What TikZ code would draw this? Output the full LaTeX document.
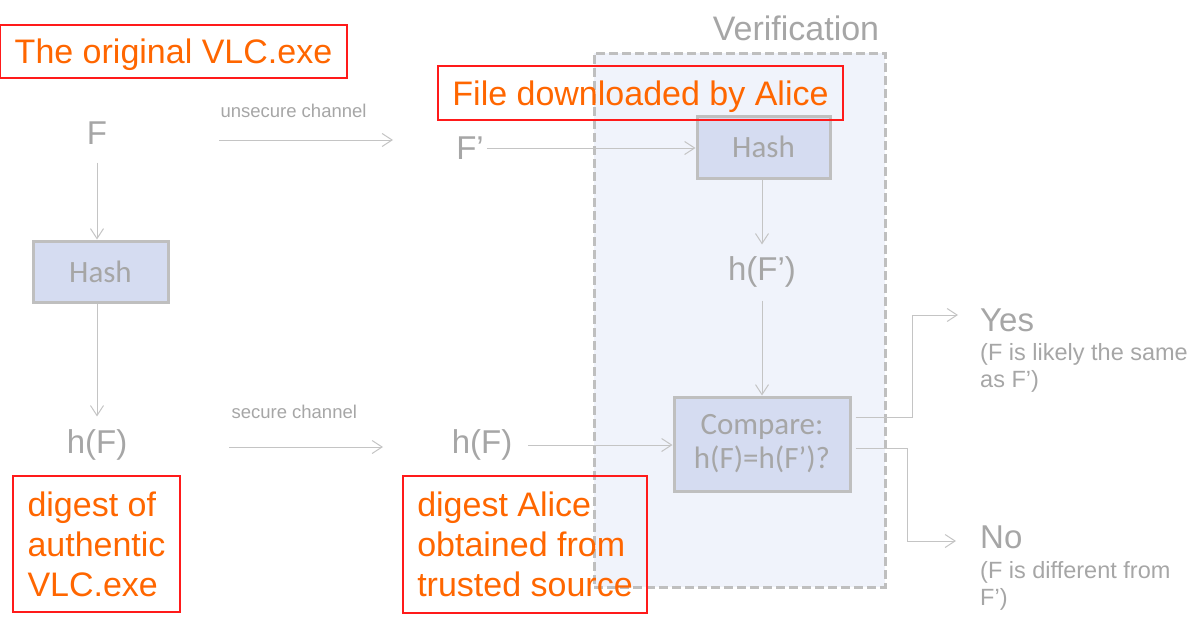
\documentclass[tikz,border=0pt]{standalone}
\usepackage{fontspec}
\setmainfont{Liberation Sans}
\newfontfamily\boxfont{Carlito}
\usetikzlibrary{arrows.meta}
\definecolor{labelgray}{HTML}{A6A6A6}
\definecolor{linegray}{HTML}{C4C4C4}
\definecolor{edgegray}{HTML}{BFBFBF}
\definecolor{boxblue}{HTML}{D5DCF1}
\definecolor{verifblue}{HTML}{F0F3FB}
\definecolor{noteorange}{HTML}{FF6600}
\definecolor{notered}{HTML}{FF1A1A}

\tikzset{
  flow/.style={draw=linegray, line width=1pt,
    -{Straight Barb[length=10pt,width=13pt,line width=1pt]}},
  val/.style={text=labelgray, font=\fontsize{33}{38}\selectfont, inner sep=3pt},
  hashbox/.style={draw=edgegray, line width=3pt, fill=boxblue, text=labelgray,
    font=\boxfont\fontsize{31}{34}\selectfont, align=center},
  note/.style={draw=notered, line width=1.2pt, text=noteorange,
    font=\fontsize{34}{40}\selectfont, align=left},
  chan/.style={text=labelgray, font=\fontsize{18.5}{21}\selectfont, anchor=west},
  remark/.style={text=labelgray, font=\fontsize{23.5}{27}\selectfont, align=left,
    anchor=north west, inner sep=3pt}
}

\begin{document}
\begin{tikzpicture}[x=1pt,y=-1pt]
\useasboundingbox (0,0) rectangle (1195,624);

% verification area
\node[draw=edgegray, line width=3pt, dash pattern=on 9pt off 4pt, fill=verifblue,
  minimum width=291pt, minimum height=534pt, inner sep=0pt] (verif) at (739.5,320) {};
\node[text=labelgray, font=\fontsize{34}{40}\selectfont] (veriftitle) at (796,28) {Verification};

% values
\node[val] (F) at (97,133) {F};
\node[val] (Fp) at (470,148) {F’};
\node[val] (hFp) at (762,272) {h(F’)};
\node[val] (hF1) at (97,445) {h(F)};
\node[val] (hF2) at (482,445) {h(F)};

% boxes
\node[hashbox, minimum width=135pt, minimum height=61pt] (hash1) at (100.5,271.5) {Hash};
\node[hashbox, minimum width=133pt, minimum height=62pt] (hash2) at (763.5,147) {Hash};
\node[hashbox, minimum width=176pt, minimum height=94pt] (cmp) at (762,444) {Compare:\\h(F)=h(F’)?};

% outcomes
\node[val, anchor=west] (yes) at (977,320) {Yes};
\node[remark] (yesnote) at (977,340) {(F is likely the same\\as F’)};
\node[val, anchor=west] (no) at (977,537) {No};
\node[remark] (nonote) at (977,558) {(F is different from\\F’)};

% channels
\coordinate (usc0) at (219,140);
\coordinate (usc1) at (393,140);
\node[chan] (usclabel) at (217,111) {unsecure channel};
\draw[flow] (usc0) -- (usc1);

\coordinate (sc0) at (229,447);
\coordinate (sc1) at (383,447);
\node[chan] (sclabel) at (228,412) {secure channel};
\draw[flow] (sc0) -- (sc1);

% arrows
\draw[flow, shorten <=15pt] (F.south) -- (F.south |- hash1.north);
\draw[flow, shorten >=10pt] (hF1.north |- hash1.south) -- (hF1.north);
\draw[flow] (Fp.east) -- (Fp.east -| hash2.west);
\draw[flow, shorten >=9pt] (hFp.north |- hash2.south) -- (hFp.north);
\draw[flow, shorten <=10pt] (hFp.south) -- (hFp.south |- cmp.north);
\draw[flow, shorten <=13pt] (hF2.east) -- (hF2.east -| cmp.west);
\draw[flow] ([xshift=4pt,yshift=27pt]cmp.east) -- ++(57,0) |- ([xshift=-19pt,yshift=5pt]yes.west);
\draw[flow] ([xshift=4pt,yshift=-4pt]cmp.east) -- ++(52,0) |- ([xshift=-21pt,yshift=-4pt]no.west);

% notes
\node[note, text depth=0pt, minimum width=347pt, minimum height=53pt] (orig) at (173.5,51.5) {The original VLC.exe};
\node[note, text depth=0pt, minimum width=405pt, minimum height=54pt] (down) at (640.5,93) {File downloaded by Alice};
\node[note, minimum width=167pt, minimum height=136pt] (dig1) at (96.5,544) {digest of\\authentic\\VLC.exe};
\node[note, minimum width=244pt, minimum height=137pt] (dig2) at (525,544.5) {digest Alice\\obtained from\\trusted source};
\end{tikzpicture}
\end{document}
